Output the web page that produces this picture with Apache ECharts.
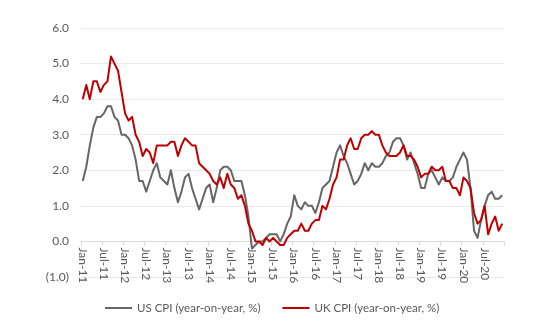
<!DOCTYPE html>
<html>
<head>
<meta charset="utf-8">
<script src="https://cdn.jsdelivr.net/npm/echarts@6/dist/echarts.min.js"></script>
<style>html,body{margin:0;padding:0;background:#fff;}#c{width:550px;height:330px;}</style>
</head>
<body>
<div id="c"></div>
<script>
// Category labels: monthly, Jan-11 .. Dec-20
const monthNames = ['Jan','Feb','Mar','Apr','May','Jun','Jul','Aug','Sep','Oct','Nov','Dec'];
const years = ['11','12','13','14','15','16','17','18','19','20'];
const categories = [];
years.forEach(y => monthNames.forEach(m => categories.push(m + '-' + y)));

const usCPI = [
  1.7, 2.1, 2.7, 3.2, 3.5, 3.5, 3.6, 3.8, 3.8, 3.5, 3.4, 3.0,
  3.0, 2.9, 2.7, 2.3, 1.7, 1.7, 1.4, 1.7, 2.0, 2.2, 1.8, 1.7,
  1.6, 2.0, 1.5, 1.1, 1.4, 1.8, 1.9, 1.5, 1.2, 0.9, 1.2, 1.5,
  1.6, 1.1, 1.5, 2.0, 2.1, 2.1, 2.0, 1.7, 1.7, 1.7, 1.3, 0.7,
  -0.2, -0.1, 0.0, 0.0, 0.1, 0.2, 0.2, 0.2, 0.0, 0.2, 0.5, 0.7,
  1.3, 1.0, 0.9, 1.1, 1.0, 1.0, 0.8, 1.1, 1.5, 1.6, 1.7, 2.1,
  2.5, 2.7, 2.4, 2.2, 1.9, 1.6, 1.7, 1.9, 2.2, 2.0, 2.2, 2.1,
  2.1, 2.2, 2.4, 2.5, 2.8, 2.9, 2.9, 2.7, 2.3, 2.5, 2.2, 1.9,
  1.5, 1.5, 1.9, 2.0, 1.8, 1.6, 1.8, 1.7, 1.7, 1.8, 2.1, 2.3,
  2.5, 2.3, 1.5, 0.3, 0.1, 0.6, 1.0, 1.3, 1.4, 1.2, 1.2, 1.3
];
const ukCPI = [
  4.0, 4.4, 4.0, 4.5, 4.5, 4.2, 4.4, 4.5, 5.2, 5.0, 4.8, 4.2,
  3.6, 3.4, 3.5, 3.0, 2.8, 2.4, 2.6, 2.5, 2.2, 2.7, 2.7, 2.7,
  2.7, 2.8, 2.8, 2.4, 2.7, 2.9, 2.8, 2.7, 2.7, 2.2, 2.1, 2.0,
  1.9, 1.7, 1.6, 1.8, 1.5, 1.9, 1.6, 1.5, 1.2, 1.3, 1.0, 0.5,
  0.3, 0.0, 0.0, -0.1, 0.1, 0.0, 0.1, 0.0, -0.1, -0.1, 0.1, 0.2,
  0.3, 0.3, 0.5, 0.3, 0.3, 0.5, 0.6, 0.6, 1.0, 0.9, 1.2, 1.6,
  1.8, 2.3, 2.3, 2.7, 2.9, 2.6, 2.6, 2.9, 3.0, 3.0, 3.1, 3.0,
  3.0, 2.7, 2.5, 2.4, 2.4, 2.4, 2.5, 2.7, 2.4, 2.4, 2.3, 2.1,
  1.8, 1.9, 1.9, 2.1, 2.0, 2.0, 2.1, 1.7, 1.7, 1.5, 1.5, 1.3,
  1.8, 1.7, 1.5, 0.8, 0.5, 0.6, 1.0, 0.2, 0.5, 0.7, 0.3, 0.5
];
const seriesNames = ['US CPI (year-on-year, %)', 'UK CPI (year-on-year, %)'];
const yMin = -1, yMax = 6, yStep = 1;

const FONT = 'Lato';
const TXT = '#595959';
const GRID = '#e9e9e9';

const W = 550, H = 330;
const gridTop = 28, gridBottom = 53;
const plotH = H - gridTop - gridBottom;
// move the category axis (line + labels) up to the zero line
const zeroOffset = -plotH * (0 - yMin) / (yMax - yMin);

const chart = echarts.init(document.getElementById('c'), null, {renderer: 'canvas'});
chart.setOption({
  animation: false,
  backgroundColor: '#ffffff',
  grid: {left: 81, right: 46, top: gridTop, bottom: gridBottom, containLabel: false},
  legend: {
    left: 100, top: 297,
    itemWidth: 27, itemHeight: 2, itemGap: 22,
    icon: 'rect',
    textStyle: {fontFamily: FONT, fontSize: 11.5, color: TXT},
    data: seriesNames
  },
  xAxis: {
    type: 'category',
    data: categories,
    boundaryGap: true,
    offset: zeroOffset,
    axisLine: {show: true, onZero: false, lineStyle: {color: '#d9d9d9', width: 1}},
    axisTick: {show: true, interval: 5, length: 4, lineStyle: {color: '#d9d9d9'}},
    axisLabel: {
      interval: 5, rotate: -90, margin: 6,
      fontFamily: FONT, fontSize: 12, color: TXT
    },
    splitLine: {show: false}
  },
  yAxis: {
    type: 'value',
    min: yMin, max: yMax, interval: yStep,
    axisLine: {show: false},
    axisTick: {show: false},
    axisLabel: {
      margin: 12, fontFamily: FONT, fontSize: 12, color: TXT,
      formatter: v => v < 0 ? '(' + Math.abs(v).toFixed(1) + ')' : v.toFixed(1)
    },
    splitLine: {show: true, lineStyle: {color: GRID, width: 1}}
  },
  series: [
    {name: seriesNames[0], type: 'line', data: usCPI, symbol: 'none',
     lineStyle: {color: '#666666', width: 2, join: 'round'}, itemStyle: {color: '#666666'}},
    {name: seriesNames[1], type: 'line', data: ukCPI, symbol: 'none',
     lineStyle: {color: '#c00000', width: 2, join: 'round'}, itemStyle: {color: '#c00000'}}
  ]
});
</script>
</body>
</html>
